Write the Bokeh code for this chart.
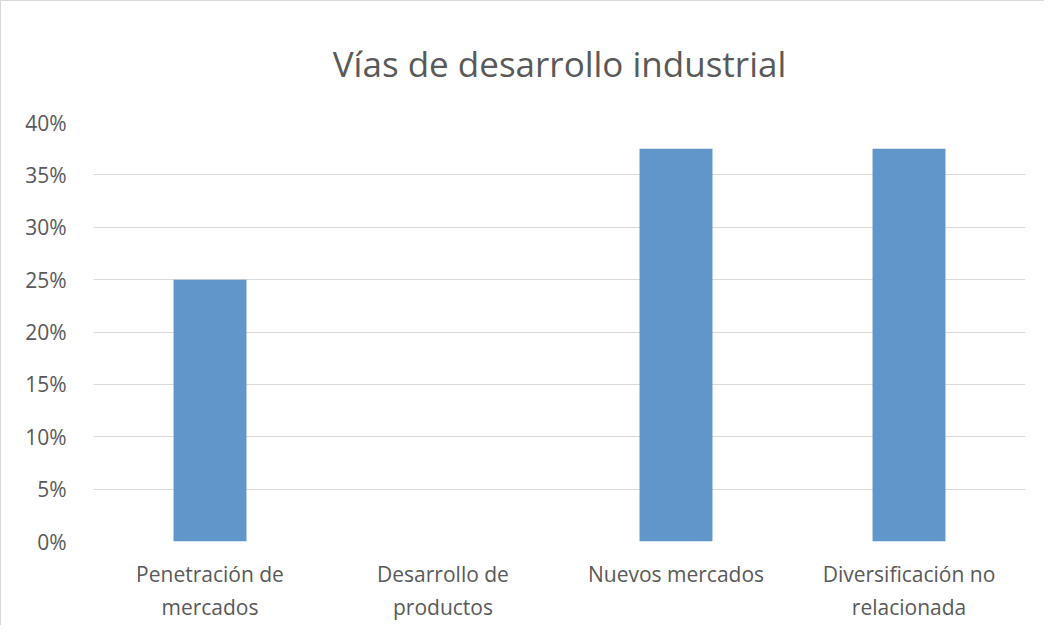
from bokeh.plotting import figure
from bokeh.models import ColumnDataSource, FactorRange, Range1d, FixedTicker, NumeralTickFormatter
from bokeh.embed import file_html
from bokeh.resources import INLINE

categories = ["Penetración de\nmercados", "Desarrollo de\nproductos", "Nuevos mercados", "Diversificación no\nrelacionada"]
values = [0.25, 0.0, 0.375, 0.375]
y_ticks = [0.0, 0.05, 0.10, 0.15, 0.20, 0.25, 0.30, 0.35, 0.40]

FONT = "Open Sans"
GRAY = "#595959"

src = ColumnDataSource(data=dict(cat=categories, val=values))

p = figure(
    width=1044, height=625,
    x_range=FactorRange(*categories, range_padding=0),
    y_range=Range1d(0, 0.4),
    output_backend="svg", toolbar_location=None,
    title="Vías de desarrollo industrial",
    min_border_left=92, min_border_right=20, min_border_top=121, min_border_bottom=85,
    styles={"border-left": "1px solid #d9d9d9", "border-top": "1px solid #d9d9d9"},
)
p.title.align = "center"
p.title.text_font = FONT
p.title.text_font_size = "35px"
p.title.text_font_style = "normal"
p.title.text_color = GRAY
p.title.standoff = 72

p.vbar(x="cat", top="val", width=0.313, source=src, color="#6096c9", line_width=0)

p.outline_line_color = None
p.xgrid.grid_line_color = None
p.ygrid.grid_line_color = "#d9d9d9"
p.ygrid.grid_line_width = 1

p.yaxis.ticker = FixedTicker(ticks=y_ticks)
p.yaxis.formatter = NumeralTickFormatter(format="0%")
for ax in (p.xaxis, p.yaxis):
    ax.axis_line_color = None
    ax.major_tick_line_color = None
    ax.minor_tick_line_color = None
    ax.major_label_text_font = FONT
    ax.major_label_text_font_size = "21px"
    ax.major_label_text_color = GRAY
p.yaxis.major_label_standoff = 21
p.xaxis.major_label_standoff = 12

open("out.html", "w").write(file_html(p, INLINE))
